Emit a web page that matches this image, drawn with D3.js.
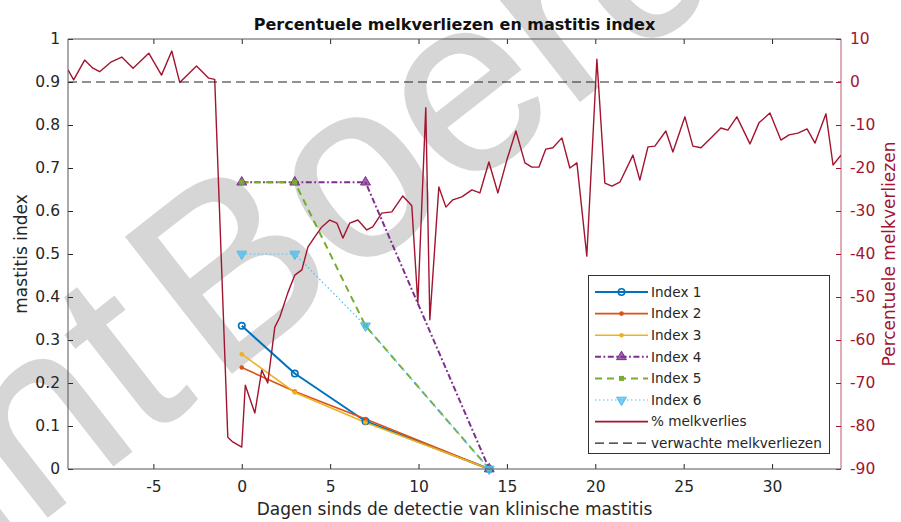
<!DOCTYPE html>
<html><head><meta charset="utf-8">
<script src="https://cdn.jsdelivr.net/npm/d3@7"></script>
<style>body{margin:0;background:#fff} svg{display:block} text{font-family:"DejaVu Sans",sans-serif}</style>
</head><body><svg id="c" width="901" height="522"></svg>
<script>
// ---------- data ----------
const indexDays = [0, 3, 7, 14];
const index1 = [0.333, 0.222, 0.111, 0];
const index2 = [0.236, 0.18, 0.116, 0];
const index3 = [0.267, 0.178, 0.108, 0];
const index4 = [0.667, 0.667, 0.667, 0];
const index5 = [0.667, 0.667, 0.333, 0];
const index6 = [0.5, 0.5, 0.333, 0];

const lossDays = [-9.83,-9.51,-8.89,-8.42,-8.04,-7.41,-6.79,-6.15,-5.26,-4.54,
  -3.96,-3.51,-2.56,-1.87,-1.53,-0.79,-0.51,0.0,0.2,0.74,
  1.13,1.47,1.87,2.15,2.6,3.0,3.4,3.74,4.13,4.53,
  4.98,5.38,5.72,6.11,6.57,7.07,7.41,7.92,8.49,9.11,
  9.62,9.96,10.41,10.64,11.15,11.55,11.94,12.45,13.02,13.47,
  13.98,14.49,15.0,15.51,16.02,16.41,16.81,17.2,17.6,18.11,
  18.56,18.96,19.52,20.09,20.54,20.94,21.39,22.13,22.52,22.98,
  23.37,23.99,24.39,25.07,25.52,25.98,26.6,27.11,27.5,28.01,
  28.75,29.26,29.88,30.5,30.96,31.47,31.98,32.43,33.05,33.45,33.9];
const lossPct = [2.8,0.5,5.1,3.2,2.4,4.6,5.8,3.2,6.7,1.6,
  7.2,-0.1,3.7,0.9,0.6,-82.6,-83.7,-84.9,-70.5,-77,
  -67,-70,-57,-54.7,-49.1,-44.9,-43.7,-38.4,-36,-33.7,
  -32.1,-32.8,-36.3,-32.8,-32.1,-34.4,-33.7,-30.5,-30.2,-26.5,
  -28.8,-51.4,-6,-55.3,-24.4,-29.1,-27.4,-26.7,-25.1,-25.8,
  -18.6,-25.8,-18.1,-11.4,-18.8,-19.8,-19.8,-15.6,-15.3,-13,
  -20,-18.8,-40.5,5.3,-23.5,-24.2,-23.3,-17,-22.8,-15.1,
  -14.9,-11.4,-16.3,-8.1,-14.9,-15.3,-12.8,-10.7,-11.2,-8.1,
  -14.4,-9.5,-7.2,-13.5,-12.3,-11.9,-10.9,-14.2,-7.4,-19.3,-17];
const expectedPct = 0;

const xTicks = [-5, 0, 5, 10, 15, 20, 25, 30];
const leftTicks = [0, 0.1, 0.2, 0.3, 0.4, 0.5, 0.6, 0.7, 0.8, 0.9, 1];
const rightTicks = [-90, -80, -70, -60, -50, -40, -30, -20, -10, 0, 10];
const seriesNames = ["Index 1","Index 2","Index 3","Index 4","Index 5","Index 6","% melkverlies","verwachte melkverliezen"];

const titleText = "Percentuele melkverliezen en mastitis index";
const xLabel = "Dagen sinds de detectie van klinische mastitis";
const yLeftLabel = "mastitis index";
const yRightLabel = "Percentuele melkverliezen";
const watermark = ["Copyright", "Boerderij"];

// ---------- layout ----------
const P = {l: 68, r: 841, t: 39, b: 469};
const x = d3.scaleLinear().domain([-9.83, 33.9]).range([P.l, P.r]);
const yL = d3.scaleLinear().domain([0, 1]).range([P.b, P.t]);
const yR = d3.scaleLinear().domain([-90, 10]).range([P.b, P.t]);
const MAROON = "#A2142F", AX = "#262626";

const svg = d3.select("#c");
svg.append("rect").attr("width", 901).attr("height", 522).attr("fill", "#fff");

// watermark (behind the data)
const wm = svg.append("g").attr("transform", "translate(216,385) rotate(-38)")
  .attr("fill", "#d6d6d6").attr("stroke", "#d6d6d6").attr("stroke-width", 2)
  .style("font-size", "250px");
wm.append("text").attr("x", 0).attr("text-anchor", "start").style("font-family", "'Liberation Sans',Arial,sans-serif").text(watermark[1]);
wm.append("text").attr("x", -22).attr("text-anchor", "end").style("font-family", "'Liberation Sans',Arial,sans-serif").text(watermark[0]);

svg.append("defs").append("clipPath").attr("id", "clip")
  .append("rect").attr("x", P.l).attr("y", P.t - 6).attr("width", P.r - P.l).attr("height", P.b - P.t + 12);

const styles = [
  {vals: index1, color: "#0072BD", width: 2, dash: null, marker: "circle"},
  {vals: index2, color: "#D95319", width: 1.6, dash: null, marker: "dot"},
  {vals: index3, color: "#EDB120", width: 1.6, dash: null, marker: "dot"},
  {vals: index4, color: "#7E2F8E", width: 2, dash: "6,2.5,1.8,2.5", marker: "tri"},
  {vals: index5, color: "#77AC30", width: 2, dash: "7,5", marker: "square"},
  {vals: index6, color: "#4DBEEE", width: 1.2, dash: "1.5,2.5", marker: "trid"}
];

function drawMarker(g, type, color, cx, cy) {
  if (type === "circle") {
    g.append("circle").attr("cx", cx).attr("cy", cy).attr("r", 3.2)
      .attr("fill", "none").attr("stroke", color).attr("stroke-width", 1.6);
  } else if (type === "dot") {
    g.append("circle").attr("cx", cx).attr("cy", cy).attr("r", 2.3).attr("fill", color);
  } else if (type === "tri" || type === "trid") {
    g.append("path").attr("d", d3.symbol(d3.symbolTriangle, 42)())
      .attr("transform", `translate(${cx},${cy})` + (type === "trid" ? " rotate(180)" : ""))
      .attr("fill", color).attr("fill-opacity", 0.75).attr("stroke", color).attr("stroke-width", 1);
  } else if (type === "square") {
    g.append("rect").attr("x", cx - 2.5).attr("y", cy - 2.5).attr("width", 5).attr("height", 5)
      .attr("fill", color);
  }
}

const plot = svg.append("g").attr("clip-path", "url(#clip)");
const lineL = d3.line().x((d, i) => x(indexDays[i])).y(d => yL(d));
styles.forEach(s => {
  plot.append("path").attr("d", lineL(s.vals)).attr("fill", "none")
    .attr("stroke", s.color).attr("stroke-width", s.width)
    .attr("stroke-dasharray", s.dash).attr("stroke-linejoin", "round");
});
styles.forEach(s => {
  s.vals.forEach((v, i) => drawMarker(plot, s.marker, s.color, x(indexDays[i]), yL(v)));
});

const lineR = d3.line().x((d, i) => x(lossDays[i])).y(d => yR(d));
plot.append("path").attr("d", lineR(lossPct)).attr("fill", "none")
  .attr("stroke", MAROON).attr("stroke-width", 1.4).attr("stroke-linejoin", "round");

plot.append("line").attr("x1", P.l).attr("x2", P.r).attr("y1", yR(expectedPct)).attr("y2", yR(expectedPct))
  .attr("stroke", "#222").attr("stroke-width", 1.2).attr("stroke-dasharray", "9,5");

// ---------- axes ----------
function styleAxis(g, color) {
  g.select(".domain").remove();
  g.selectAll(".tick line").attr("stroke", color);
  g.selectAll(".tick text").attr("fill", color).style("font-size", "15.5px")
    .style("font-family", "'DejaVu Sans',sans-serif");
}
const gB = svg.append("g").attr("transform", `translate(0,${P.b})`)
  .call(d3.axisBottom(x).tickValues(xTicks).tickSize(-5).tickPadding(12).tickFormat(d => String(d)));
styleAxis(gB, AX);
const gT = svg.append("g").attr("transform", `translate(0,${P.t})`)
  .call(d3.axisTop(x).tickValues(xTicks).tickSize(-5).tickFormat(""));
styleAxis(gT, AX);
const gL = svg.append("g").attr("transform", `translate(${P.l},0)`)
  .call(d3.axisLeft(yL).tickValues(leftTicks).tickSize(-5).tickPadding(8).tickFormat(d3.format("~g")));
styleAxis(gL, AX);
const gR = svg.append("g").attr("transform", `translate(${P.r},0)`)
  .call(d3.axisRight(yR).tickValues(rightTicks).tickSize(-5).tickPadding(9).tickFormat(d => String(d)));
styleAxis(gR, MAROON);

// box
svg.append("path").attr("d", `M${P.l},${P.t}V${P.b}H${P.r}`).attr("fill", "none").attr("stroke", "#555").attr("stroke-width", 1);
svg.append("path").attr("d", `M${P.l},${P.t}H${P.r}`).attr("fill", "none").attr("stroke", "#555").attr("stroke-width", 1);
svg.append("path").attr("d", `M${P.r},${P.t}V${P.b}`).attr("fill", "none").attr("stroke", MAROON).attr("stroke-width", 1).attr("stroke-opacity", 0.7);

// ---------- legend ----------
const lg = svg.append("g");
lg.append("rect").attr("x", 588.5).attr("y", 275.5).attr("width", 241).attr("height", 178)
  .attr("fill", "#fff").attr("stroke", "#333").attr("stroke-width", 1);
const legStyles = styles.map(s => ({color: s.color, width: s.width, dash: s.dash, marker: s.marker}))
  .concat([{color: MAROON, width: 1.8, dash: null, marker: null}, {color: "#222", width: 1.2, dash: "9,5", marker: null}]);
seriesNames.forEach((name, i) => {
  const yy = 292 + i * 21.6;
  const st = legStyles[i];
  lg.append("line").attr("x1", 595).attr("x2", 648).attr("y1", yy).attr("y2", yy)
    .attr("stroke", st.color).attr("stroke-width", st.width).attr("stroke-dasharray", st.dash);
  if (st.marker) drawMarker(lg, st.marker, st.color, 621.5, yy);
  lg.append("text").attr("x", 651).attr("y", yy).attr("dy", "0.36em")
    .attr("fill", AX).style("font-size", "13.6px").text(name);
});

// ---------- texts ----------
svg.append("text").attr("x", 454.5).attr("y", 30).attr("text-anchor", "middle")
  .attr("fill", "#111").style("font-size", "16px").style("font-weight", "bold").text(titleText);
svg.append("text").attr("x", 454.5).attr("y", 515).attr("text-anchor", "middle")
  .attr("fill", AX).style("font-size", "17px").text(xLabel);
svg.append("text").attr("transform", `translate(27,254) rotate(-90)`).attr("text-anchor", "middle")
  .attr("fill", AX).style("font-size", "17px").text(yLeftLabel);
svg.append("text").attr("transform", `translate(895,254) rotate(-90)`).attr("text-anchor", "middle")
  .attr("fill", MAROON).style("font-size", "17px").text(yRightLabel);
</script></body></html>
